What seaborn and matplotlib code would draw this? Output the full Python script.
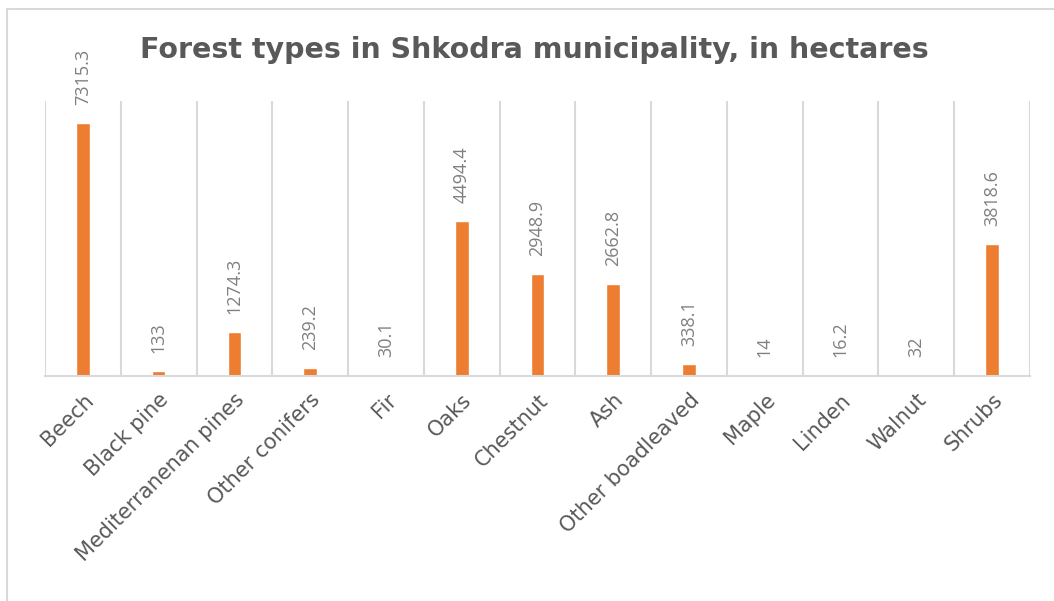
import matplotlib
matplotlib.use("Agg")
import matplotlib.pyplot as plt
import seaborn as sns
import pandas as pd
from matplotlib.patches import Rectangle

categories = ["Beech", "Black pine", "Mediterranenan pines", "Other conifers", "Fir",
              "Oaks", "Chestnut", "Ash", "Other boadleaved", "Maple", "Linden",
              "Walnut", "Shrubs"]
values = [7315.3, 133, 1274.3, 239.2, 30.1, 4494.4, 2948.9, 2662.8, 338.1, 14, 16.2, 32, 3818.6]
value_labels = ["7315.3", "133", "1274.3", "239.2", "30.1", "4494.4", "2948.9",
                "2662.8", "338.1", "14", "16.2", "32", "3818.6"]
title = "Forest types in Shkodra municipality, in hectares"

sns.set_theme(style="white")
plt.rcParams['font.family'] = ['Open Sans', 'DejaVu Sans']

df = pd.DataFrame({"type": categories, "ha": values})

fig = plt.figure(figsize=(10.54, 6.01), dpi=100)
ax = fig.add_axes([45/1054, 1-376/601, (1030-45)/1054, (376-101)/601])

sns.barplot(data=df, x="type", y="ha", color="#ED7D31", width=0.18, ax=ax,
            saturation=1, order=categories)

ax.set_ylim(0, 7960)
ax.set_xlim(-0.5, len(categories) - 0.5)
for i in range(len(categories) + 1):
    ax.axvline(i - 0.5, color="#D9D9D9", lw=1.5, zorder=0)

for s in ["top", "right", "left"]:
    ax.spines[s].set_visible(False)
ax.spines["bottom"].set_color("#D9D9D9")
ax.spines["bottom"].set_linewidth(1.5)
ax.set_yticks([])
ax.set_xlabel("")
ax.set_ylabel("")
ax.tick_params(axis="x", length=0, pad=10)
ax.set_xticks(range(len(categories)))
ax.set_xticklabels(categories, rotation=45, ha="right", rotation_mode="anchor",
                   fontsize=15, color="#595959", family=["DejaVu Sans"])

for i, (v, lab) in enumerate(zip(values, value_labels)):
    ax.annotate(lab, (i, v), xytext=(0, 13), textcoords="offset points",
                rotation=90, ha="center", va="bottom", fontsize=13,
                color="#808080", clip_on=False)

fig.text(534/1054, 1 - 50/601, title, ha="center", va="center", fontsize=20.5,
         fontweight="bold", color="#595959", family=["DejaVu Sans"])

fig.patches.append(Rectangle((7/1054, -0.1), 1.2, 1 - 9/601 + 0.1,
                             transform=fig.transFigure, fill=False,
                             edgecolor="#D9D9D9", lw=1.5))

fig.savefig("out.png", dpi=100)
